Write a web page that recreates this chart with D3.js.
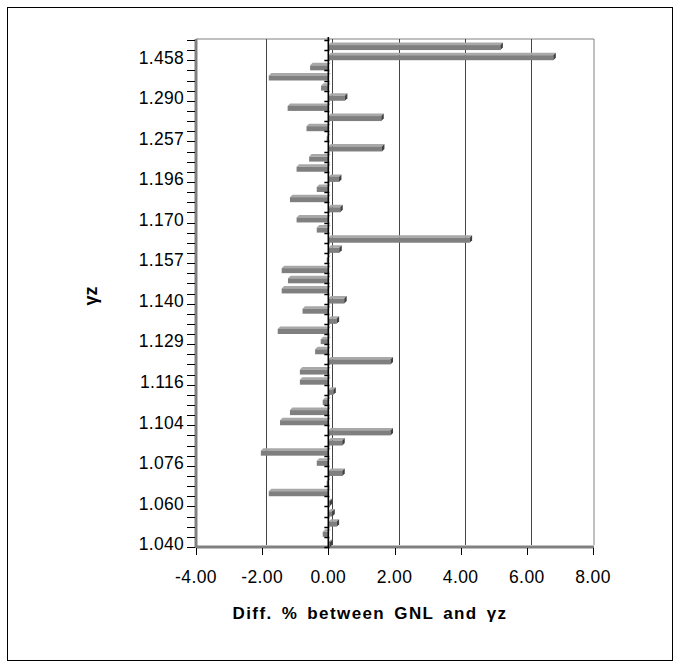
<!DOCTYPE html>
<html>
<head>
<meta charset="utf-8">
<script src="https://cdn.jsdelivr.net/npm/d3@7"></script>
<style>
  body { margin: 0; background: #fff; }
  svg text { font-family: "Liberation Sans", Arial, sans-serif; }
</style>
</head>
<body>
<div id="chart"></div>
<script>
// categories read top to bottom; only every 4th one carries a label
var yLabels = ["1.458", "1.290", "1.257", "1.196", "1.170", "1.157", "1.140",
    "1.129", "1.116", "1.104", "1.076", "1.060", "1.040"];

// diff % between GNL and gamma z, one value per category, top to bottom
var diffs = [5.2, 6.8, -0.55, -1.8, -0.22, 0.5, -1.23, 1.6, -0.66, -0.05,
    1.62, -0.58, -0.96, 0.32, -0.35, -1.16, 0.36, -0.96, -0.35, 4.27,
    0.33, -0.05, -1.41, -1.22, -1.41, 0.48, -0.78, 0.25, -1.53, -0.23,
    -0.4, 1.88, -0.86, -0.86, 0.15, -0.17, -1.16, -1.46, 1.88, 0.42,
    -2.04, -0.35, 0.42, -0.05, -1.8, 0.04, 0.12, 0.25, -0.17, 0.05];

var xTicks = [-4, -2, 0, 2, 4, 6, 8];

(function () {
    var W = 680, H = 668,
        left = 196, right = 593, top = 40, bottom = 547,
        depth = 4, barDepth = 2.5, barH = 5,
        n = diffs.length,
        svg, x, y, bw, bars;

    svg = d3.select("#chart").append("svg")
        .attr("width", W).attr("height", H);

    // outer frame
    svg.append("rect")
        .attr("x", 7.5).attr("y", 7.5)
        .attr("width", 665).attr("height", 653)
        .attr("fill", "none").attr("stroke", "#000");

    x = d3.scaleLinear().domain([-4, 8]).range([left, right]);
    // index 0 is the top category
    y = d3.scaleBand().domain(d3.range(n)).range([top, bottom]);
    bw = y.bandwidth();

    // back wall outline + gridlines
    svg.append("path")
        .attr("d", "M" + left + "," + (top - 1) + "H" + (right + 1) +
            "V" + (bottom - 2))
        .attr("fill", "none").attr("stroke", "#808080");

    svg.append("g").selectAll("line")
        .data(xTicks.slice(1, -1)).enter().append("line")
        .attr("x1", function (d) { return Math.round(x(d) + depth) + 0.5; })
        .attr("x2", function (d) { return Math.round(x(d) + depth) + 0.5; })
        .attr("y1", top - 1).attr("y2", bottom - 2)
        .attr("stroke", "#444");

    // left wall and floor
    svg.append("line")
        .attr("x1", left).attr("x2", left)
        .attr("y1", top - 1).attr("y2", bottom + 1)
        .attr("stroke", "#808080").attr("stroke-width", 3);
    svg.append("line")
        .attr("x1", left).attr("x2", right + 1)
        .attr("y1", bottom).attr("y2", bottom)
        .attr("stroke", "#808080").attr("stroke-width", 3);

    // left category ticks (band boundaries)
    var bounds = d3.range(n + 1).map(function (i) {
        return i < n ? y(i) : y(n - 1) + bw;
    });
    svg.append("g").selectAll("line")
        .data(bounds).enter().append("line")
        .attr("x1", left - 9).attr("x2", left - 1)
        .attr("y1", function (d) { return Math.round(d) + 0.5; })
        .attr("y2", function (d) { return Math.round(d) + 0.5; })
        .attr("stroke", "#000");

    // category labels, every 4th from the bottom
    svg.append("g").selectAll("text")
        .data(yLabels).enter().append("text")
        .attr("x", 184)
        .attr("y", function (d, i) {
            return y(n - 1 - (yLabels.length - 1 - i) * 4) + bw / 2 + 2;
        })
        .attr("dy", "0.36em")
        .attr("text-anchor", "end")
        .style("font-size", "17.5px")
        .style("letter-spacing", "0.3px")
        .text(function (d) { return d; });

    // x ticks and labels
    svg.append("g").selectAll("line")
        .data(xTicks).enter().append("line")
        .attr("x1", function (d) { return Math.round(x(d)) + 0.5; })
        .attr("x2", function (d) { return Math.round(x(d)) + 0.5; })
        .attr("y1", bottom + 1).attr("y2", bottom + 8)
        .attr("stroke", "#000");

    svg.append("g").selectAll("text")
        .data(xTicks).enter().append("text")
        .attr("x", function (d) { return x(d); })
        .attr("y", bottom + 36)
        .attr("text-anchor", "middle")
        .style("font-size", "17.5px")
        .style("letter-spacing", "0.4px")
        .text(function (d) { return d.toFixed(2); });

    // bars, drawn as front face + top face + end cap
    bars = svg.append("g").selectAll("g")
        .data(diffs).enter().append("g");

    bars.append("path")
        .attr("fill", "#a8a8a8")
        .attr("d", function (d, i) {
            var x0 = x(Math.min(0, d)), x1 = x(Math.max(0, d)),
                yt = y(i) + bw / 2;
            return "M" + x0 + "," + yt + "L" + x1 + "," + yt +
                "L" + (x1 + barDepth) + "," + (yt - barDepth) +
                "L" + (x0 + barDepth) + "," + (yt - barDepth) + "Z";
        });

    bars.append("rect")
        .attr("fill", "#7f7f7f")
        .attr("x", function (d) { return x(Math.min(0, d)); })
        .attr("y", function (d, i) { return y(i) + bw / 2; })
        .attr("width", function (d) { return Math.abs(x(d) - x(0)); })
        .attr("height", barH);

    bars.append("path")
        .attr("fill", "#404040")
        .attr("d", function (d, i) {
            if (d <= 0) { return null; }
            var x1 = x(d), yt = y(i) + bw / 2;
            return "M" + x1 + "," + yt +
                "L" + (x1 + barDepth) + "," + (yt - barDepth) +
                "L" + (x1 + barDepth) + "," + (yt + barH - barDepth) +
                "L" + x1 + "," + (yt + barH) + "Z";
        });

    // zero (category) axis with its own ticks
    svg.append("line")
        .attr("x1", x(0)).attr("x2", x(0))
        .attr("y1", top - 3).attr("y2", bottom + 1)
        .attr("stroke", "#000").attr("stroke-width", 1.6);
    svg.append("g").selectAll("line")
        .data(bounds).enter().append("line")
        .attr("x1", x(0) - 4).attr("x2", x(0) + 1)
        .attr("y1", function (d) { return Math.round(d) + 0.5; })
        .attr("y2", function (d) { return Math.round(d) + 0.5; })
        .attr("stroke", "#000").attr("stroke-width", 1.5);

    // axis titles
    svg.append("text")
        .attr("transform", "translate(97,296) rotate(-90)")
        .attr("text-anchor", "middle")
        .style("font-size", "18px").style("font-weight", "bold")
        .text("\u03b3z");

    svg.append("text")
        .attr("x", 370).attr("y", 619)
        .attr("text-anchor", "middle")
        .style("font-size", "17px").style("font-weight", "bold")
        .style("letter-spacing", "1.4px")
        .style("word-spacing", "3px")
        .text("Diff. % between GNL and \u03b3z");
}());
</script>
</body>
</html>
